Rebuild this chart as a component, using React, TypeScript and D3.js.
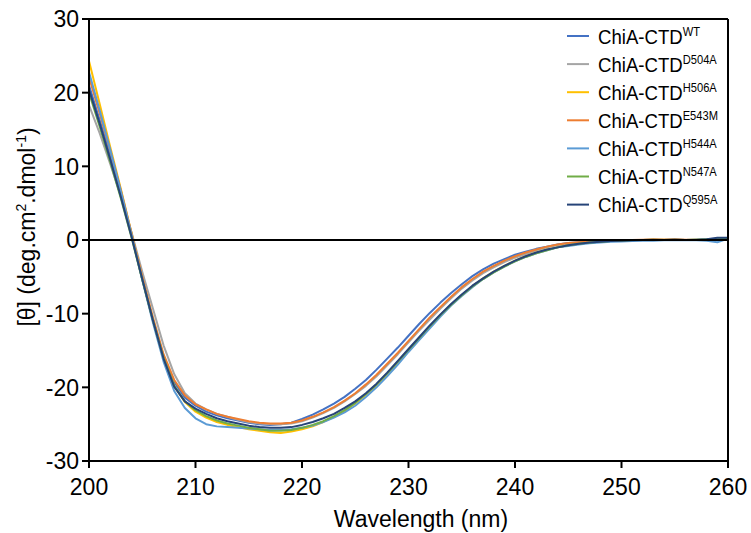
import React from "react";
import * as d3 from "d3";

const wavelengths = d3.range(200, 261);

const seriesNames = ["WT", "D504A", "H506A", "E543M", "H544A", "N547A", "Q595A"];
const seriesColors = ["#4472C4", "#A5A5A5", "#FFC000", "#ED7D31", "#5B9BD5", "#70AD47", "#264478"];

const wt = [21.0, 16.3, 11.5, 6.3, 0.6, -5.3, -10.8, -15.8, -19.3, -21.4, -22.5, -23.3, -23.8, -24.2, -24.5, -24.8, -25.0, -25.1, -25.0, -24.8, -24.3, -23.7, -23.0, -22.2, -21.3, -20.2, -19.0, -17.6, -16.1, -14.6, -13.0, -11.4, -9.9, -8.5, -7.2, -6.0, -4.9, -4.0, -3.2, -2.6, -2.0, -1.6, -1.2, -0.9, -0.6, -0.4, -0.3, -0.2, -0.15, -0.1, -0.05, 0.0, 0.0, 0.05, 0.0, 0.05, 0.0, 0.0, 0.05, 0.1, 0.1];
const d504a = [18.3, 14.5, 10.3, 5.9, 1.0, -4.3, -9.3, -14.3, -18.2, -20.8, -22.2, -23.0, -23.6, -24.0, -24.4, -24.7, -24.9, -25.0, -25.0, -24.9, -24.6, -24.1, -23.5, -22.8, -21.9, -20.9, -19.8, -18.5, -17.0, -15.5, -13.9, -12.3, -10.8, -9.3, -7.9, -6.6, -5.5, -4.5, -3.7, -3.0, -2.4, -1.9, -1.4, -1.0, -0.7, -0.5, -0.35, -0.25, -0.15, -0.1, -0.05, 0.0, 0.0, 0.0, 0.05, 0.0, 0.0, 0.0, 0.0, 0.05, 0.05];
const h506a = [24.3, 18.5, 12.6, 6.9, 0.9, -5.2, -10.9, -16.0, -19.8, -22.0, -23.3, -24.1, -24.7, -25.1, -25.4, -25.7, -25.9, -26.1, -26.2, -26.0, -25.7, -25.3, -24.7, -24.0, -23.2, -22.2, -21.0, -19.7, -18.2, -16.6, -15.0, -13.4, -11.8, -10.2, -8.8, -7.5, -6.3, -5.2, -4.3, -3.5, -2.8, -2.2, -1.7, -1.3, -1.0, -0.7, -0.5, -0.35, -0.25, -0.15, -0.1, -0.05, 0.0, 0.0, 0.05, 0.0, 0.0, 0.05, 0.0, 0.05, 0.1];
const e543m = [22.1, 17.2, 12.1, 6.7, 0.9, -5.0, -10.5, -15.5, -19.0, -21.1, -22.3, -23.0, -23.6, -24.0, -24.3, -24.6, -24.8, -24.9, -24.9, -24.8, -24.5, -24.0, -23.4, -22.7, -21.8, -20.8, -19.6, -18.3, -16.8, -15.3, -13.7, -12.1, -10.5, -9.1, -7.7, -6.4, -5.3, -4.3, -3.5, -2.8, -2.2, -1.7, -1.3, -0.9, -0.6, -0.4, -0.3, -0.2, -0.1, -0.1, 0.0, 0.0, 0.05, 0.1, 0.05, 0.1, 0.05, 0.0, 0.0, 0.0, 0.0];
const h544a = [22.8, 17.6, 12.2, 6.6, 0.7, -5.4, -11.2, -16.5, -20.5, -22.8, -24.2, -25.0, -25.3, -25.4, -25.5, -25.6, -25.7, -25.8, -25.8, -25.7, -25.5, -25.2, -24.7, -24.1, -23.4, -22.5, -21.3, -20.0, -18.5, -16.9, -15.2, -13.6, -12.0, -10.4, -8.9, -7.6, -6.4, -5.3, -4.4, -3.6, -2.9, -2.3, -1.8, -1.4, -1.0, -0.8, -0.6, -0.45, -0.35, -0.25, -0.2, -0.15, -0.1, -0.1, -0.05, -0.05, 0.0, -0.05, -0.1, -0.3, 0.2];
const n547a = [20.0, 15.4, 10.6, 5.6, 0.3, -5.4, -10.9, -16.0, -19.8, -21.9, -23.1, -23.9, -24.5, -24.9, -25.2, -25.5, -25.7, -25.9, -25.9, -25.8, -25.5, -25.1, -24.6, -23.9, -23.1, -22.1, -20.9, -19.6, -18.1, -16.5, -14.9, -13.3, -11.7, -10.2, -8.8, -7.5, -6.3, -5.3, -4.4, -3.6, -2.9, -2.3, -1.8, -1.4, -1.0, -0.7, -0.5, -0.35, -0.25, -0.15, -0.1, 0.0, 0.0, 0.05, 0.0, 0.05, 0.0, 0.05, 0.1, 0.1, 0.2];
const q595a = [20.4, 15.8, 10.9, 5.8, 0.4, -5.3, -10.9, -16.1, -19.9, -21.9, -22.9, -23.6, -24.2, -24.6, -24.9, -25.2, -25.4, -25.5, -25.5, -25.4, -25.1, -24.7, -24.2, -23.6, -22.8, -21.9, -20.8, -19.5, -18.0, -16.4, -14.8, -13.2, -11.6, -10.1, -8.7, -7.4, -6.2, -5.2, -4.3, -3.5, -2.8, -2.2, -1.7, -1.3, -1.0, -0.7, -0.5, -0.35, -0.25, -0.15, -0.1, -0.05, 0.0, 0.0, 0.0, 0.05, 0.0, 0.05, 0.1, 0.3, 0.3];

const seriesValues = [wt, d504a, h506a, e543m, h544a, n547a, q595a];

const xTicks = [200, 210, 220, 230, 240, 250, 260];
const yTicks = [30, 20, 10, 0, -10, -20, -30];

const FONT = "'Liberation Sans', Arial, sans-serif";

export default function App() {
  const left = 89, right = 728, top = 19, bottom = 461;
  const x = d3.scaleLinear().domain([200, 260]).range([left, right]);
  const y = d3.scaleLinear().domain([-30, 30]).range([bottom, top]);
  const line = d3
    .line<[number, number]>()
    .x((d) => x(d[0]))
    .y((d) => y(d[1]));

  const tickLen = 7;
  const legendX = 567;
  const legendY0 = 36;
  const legendStep = 28.1;

  return (
    <svg
      width={751}
      height={533}
      style={{ position: "absolute", left: 0, top: 0, background: "#fff" }}
      fontFamily={FONT}
    >
      <rect x={0} y={0} width={751} height={533} fill="#fff" />
      {seriesValues.map((vals, i) => (
        <path
          key={seriesNames[i]}
          d={line(wavelengths.map((w, j) => [w, vals[j]] as [number, number])) || ""}
          fill="none"
          stroke={seriesColors[i]}
          strokeWidth={2}
          strokeLinejoin="round"
        />
      ))}
      <line x1={left - tickLen} x2={right} y1={top} y2={top} stroke="#000" strokeWidth={2} />
      <line x1={right} x2={right} y1={top} y2={bottom + tickLen} stroke="#000" strokeWidth={2} />
      <line x1={left} x2={left} y1={top} y2={bottom + tickLen} stroke="#000" strokeWidth={2} />
      <line x1={left - tickLen} x2={right} y1={bottom} y2={bottom} stroke="#000" strokeWidth={2} />
      <line x1={left - tickLen} x2={right} y1={y(0)} y2={y(0)} stroke="#000" strokeWidth={2} />
      {yTicks.map((t) => (
        <g key={"y" + t}>
          <line x1={left - tickLen} x2={left} y1={y(t)} y2={y(t)} stroke="#000" strokeWidth={2} />
          <text x={79} y={y(t)} dy="0.36em" textAnchor="end" fontSize={23} fill="#000">
            {t}
          </text>
        </g>
      ))}
      {xTicks.map((t) => (
        <g key={"x" + t}>
          <line x1={x(t)} x2={x(t)} y1={bottom} y2={bottom + tickLen} stroke="#000" strokeWidth={2} />
          <text x={x(t)} y={495} textAnchor="middle" fontSize={23} fill="#000">
            {t}
          </text>
        </g>
      ))}
      <text x={421} y={527} textAnchor="middle" fontSize={23} fill="#000">
        Wavelength (nm)
      </text>
      <text
        transform={`translate(35,227) rotate(-90)`}
        textAnchor="middle"
        fontSize={23}
        fill="#000"
      >
        [θ] (deg.cm
        <tspan fontSize={14} dy={-9}>2</tspan>
        <tspan dy={9}>.dmol</tspan>
        <tspan fontSize={14} dy={-9}>-1</tspan>
        <tspan dy={9}>)</tspan>
      </text>
      {seriesNames.map((n, i) => {
        const ly = legendY0 + i * legendStep;
        return (
          <g key={"leg" + n}>
            <line x1={legendX} x2={legendX + 22} y1={ly} y2={ly} stroke={seriesColors[i]} strokeWidth={2} />
            <g transform={`translate(598,${ly + 7.5}) scale(0.93,1)`}>
              <text x={0} y={0} fontSize={20} fill="#000">
                ChiA-CTD
                <tspan fontSize={12} dy={-8}>{n}</tspan>
              </text>
            </g>
          </g>
        );
      })}
    </svg>
  );
}
